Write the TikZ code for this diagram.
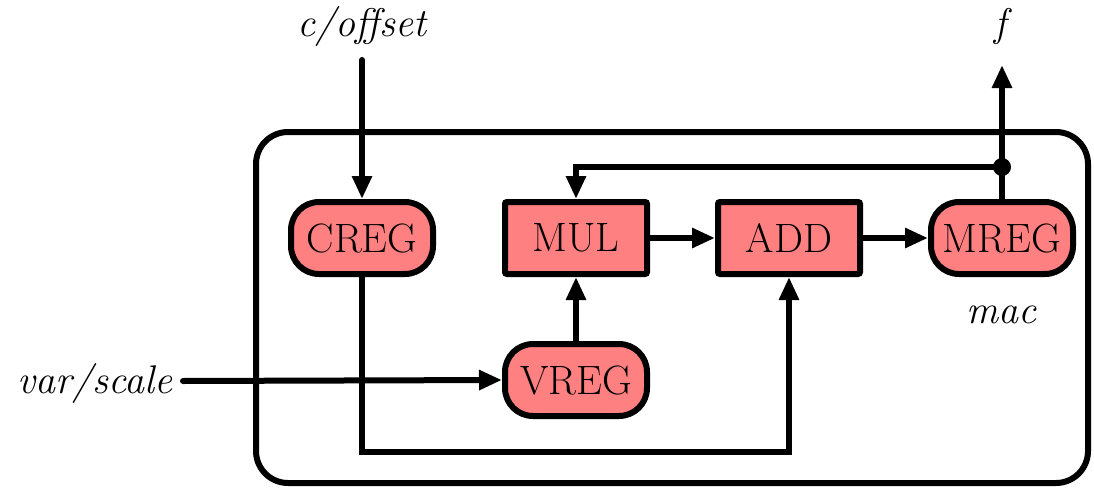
\documentclass[tikz,border=0pt]{standalone}
\usetikzlibrary{arrows.meta}
\definecolor{regfill}{RGB}{255,128,128}
\begin{document}
\begin{tikzpicture}[x=1pt,y=-1pt,
  wire/.style={line width=6pt,-{Triangle[length=23pt,width=19pt]}},
  plain/.style={line width=6pt},
  blockbase/.style={draw,line width=6pt,fill=regfill,minimum width=142pt,
    minimum height=72pt,inner sep=0pt,font=\fontsize{41}{48}\selectfont},
  reg/.style={blockbase,rounded corners=28pt},
  unit/.style={blockbase,rounded corners=2pt},
  lab/.style={anchor=base,inner sep=0pt,font=\fontsize{40}{48}\selectfont\itshape}]
\useasboundingbox (0,0) rectangle (1094,487);

% enclosing module
\draw[plain,rounded corners=32pt] (256,132) rectangle (1088,483);

% datapath blocks
\node[reg]  (creg) at (362,238) {CREG};
\node[unit] (mul)  at (576,238) {MUL};
\node[unit] (add)  at (789,238) {ADD};
\node[reg]  (mreg) at (1002,238) {MREG};
\node[reg]  (vreg) at (576,380) {VREG};

% port labels
\node[lab] (coff)  at (362,37)  {c/offset};
\node[lab] (fname) at (1000,37) {f};
\node[lab] (vsc)   at (95,393)  {var/scale};
\node[lab] (mac)   at (1001,323) {mac};

% wire end points
\coordinate (cin)  at (362,60);
\coordinate (fout) at (1002,65);
\coordinate (vin)  at (183,381);
\coordinate (tap)  at (1002,167);
\coordinate (low)  at (362,452);

% connections
\draw[wire,line cap=round] (cin) -- (creg.north);
\draw[wire] (mreg.north) -- (fout);
\draw[wire] (tap) -| (mul.north);
\fill (tap) circle (9pt);
\draw[wire] (mul.east) -- (add.west);
\draw[wire] (add.east) -- (mreg.west);
\draw[wire] (vreg.north) -- (mul.south);
\draw[wire,line cap=round] (vin) -- (vreg.west);
\draw[wire] (creg.south) -- (low) -| (add.south);
\end{tikzpicture}
\end{document}
